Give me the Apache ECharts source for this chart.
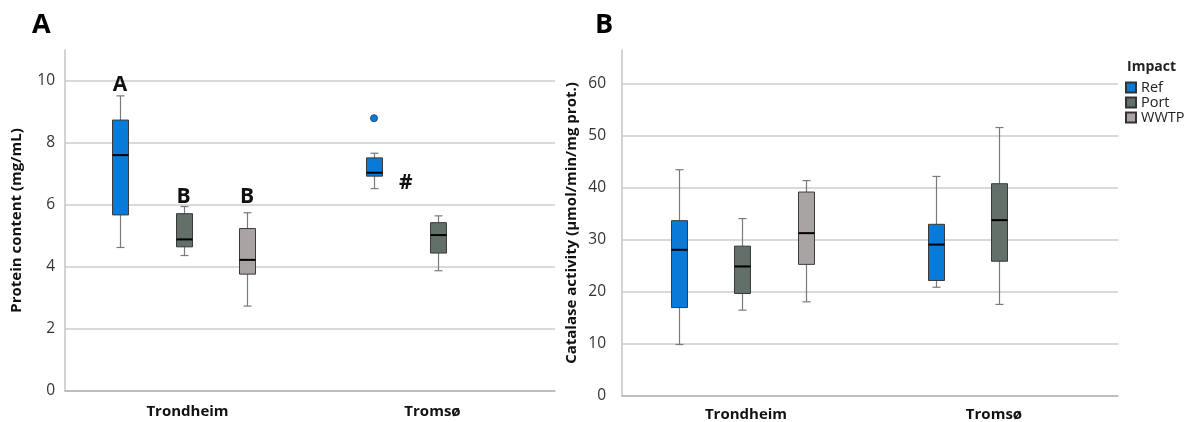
<!DOCTYPE html>
<html>
<head>
<meta charset="utf-8">
<script src="https://cdn.jsdelivr.net/npm/echarts@6/dist/echarts.min.js"></script>
<style>
  html, body { margin: 0; padding: 0; background: #fff; }
  #main { width: 1189px; height: 422px; }
</style>
</head>
<body>
<div id="main"></div>
<script>
const cities = ['Trondheim', 'Tromsø'];
const impacts = ['Ref', 'Port', 'WWTP'];
const colors = ['#0a7ad8', '#627069', '#aaa3a3'];

// [cityIndex, min, q1, median, q3, max]
const proteinRef = [[0, 4.63, 5.68, 7.61, 8.74, 9.52], [1, 6.53, 6.93, 7.04, 7.52, 7.67]];
const proteinPort = [[0, 4.37, 4.65, 4.89, 5.72, 5.95], [1, 3.88, 4.45, 5.03, 5.43, 5.65]];
const proteinWwtp = [[0, 2.74, 3.77, 4.23, 5.24, 5.75]];
// [cityIndex, impactIndex, value]
const proteinOutliers = [[1, 0, 8.80]];
// [cityIndex, impactIndex position, value, text]
const proteinNotes = [[0, 0, 9.87, 'A'], [0, 1, 6.26, 'B'], [0, 2, 6.26, 'B'], [1, 0.5, 6.7, '#']];

const catalaseRef = [[0, 9.9, 17.0, 28.1, 33.7, 43.5], [1, 20.9, 22.2, 29.1, 33.0, 42.2]];
const catalasePort = [[0, 16.5, 19.7, 24.9, 28.8, 34.1], [1, 17.6, 25.9, 33.8, 40.8, 51.6]];
const catalaseWwtp = [[0, 18.1, 25.3, 31.3, 39.2, 41.4]];

const groupStep = 63.5;
const cityShift = [-4, 5];
const boxW = 16;

function xPos(api, city, g) {
  return api.coord([city, 0])[0] + cityShift[city] + (g - 1) * groupStep;
}

function boxSeries(name, idx, axisIdx, rows) {
  return {
    name: name,
    type: 'custom',
    xAxisIndex: axisIdx,
    yAxisIndex: axisIdx,
    clip: false,
    itemStyle: { color: colors[idx], borderColor: '#333', borderWidth: 1 },
    encode: { x: 0, y: [1, 2, 3, 4, 5] },
    data: rows,
    renderItem: function (params, api) {
      const c = api.value(0);
      const cx = Math.round(xPos(api, c, idx)) + 0.5;
      const y = v => api.coord([c, v])[1];
      const yMin = y(api.value(1)), yQ1 = y(api.value(2)), yMed = y(api.value(3));
      const yQ3 = y(api.value(4)), yMax = y(api.value(5));
      const wl = { stroke: '#7a7a7a', lineWidth: 1.2 };
      return {
        type: 'group',
        children: [
          { type: 'line', shape: { x1: cx, y1: yMax, x2: cx, y2: yQ3 }, style: wl },
          { type: 'line', shape: { x1: cx, y1: yQ1, x2: cx, y2: yMin }, style: wl },
          { type: 'line', shape: { x1: cx - 4, y1: yMax, x2: cx + 4, y2: yMax }, style: wl },
          { type: 'line', shape: { x1: cx - 4, y1: yMin, x2: cx + 4, y2: yMin }, style: wl },
          { type: 'rect', shape: { x: cx - boxW / 2, y: yQ3, width: boxW, height: yQ1 - yQ3 },
            style: { fill: colors[idx], stroke: '#3a3a3a', lineWidth: 1 } },
          { type: 'line', shape: { x1: cx - boxW / 2, y1: yMed, x2: cx + boxW / 2, y2: yMed },
            style: { stroke: '#000', lineWidth: 2 } }
        ]
      };
    }
  };
}

function outlierSeries(axisIdx, rows) {
  return {
    type: 'custom',
    xAxisIndex: axisIdx,
    yAxisIndex: axisIdx,
    clip: false,
    encode: { x: 0, y: 2 },
    data: rows,
    renderItem: function (params, api) {
      const c = api.value(0), g = api.value(1);
      const py = api.coord([c, api.value(2)])[1];
      return { type: 'circle', shape: { cx: xPos(api, c, g), cy: py, r: 3.5 },
        style: { fill: colors[g], stroke: '#1f4f80', lineWidth: 1 } };
    }
  };
}

function noteSeries(axisIdx, notes) {
  return {
    type: 'custom',
    xAxisIndex: axisIdx,
    yAxisIndex: axisIdx,
    clip: false,
    silent: true,
    encode: { x: 0, y: 1 },
    data: notes.map(n => [n[0], n[2]]),
    renderItem: function (params, api) {
      const n = notes[params.dataIndex];
      const py = api.coord([n[0], n[2]])[1];
      return { type: 'text', x: xPos(api, n[0], n[1]), y: py,
        style: { text: n[3], font: 'bold 21px "Open Sans", sans-serif', fill: '#111',
          align: 'center', verticalAlign: 'middle' } };
    }
  };
}

const gridLine = '#d9d9d9';
function yAxis(gridIdx, max, interval, name, gap, colorsArr, margin) {
  return {
    type: 'value', gridIndex: gridIdx, min: 0, max: max, interval: interval,
    name: name, nameLocation: 'middle', nameGap: gap,
    nameTextStyle: { fontFamily: 'Open Sans', fontWeight: 'bold', fontSize: 15, color: '#111' },
    axisLine: { show: true, lineStyle: { color: '#c4c4c4', width: 1.5 } },
    axisTick: { show: false },
    axisLabel: { showMaxLabel: false, fontFamily: 'Open Sans', fontSize: 15.5, color: '#333', margin: margin },
    splitLine: { show: true, lineStyle: { color: colorsArr, width: 2 } }
  };
}
function xAxis(gridIdx, margin) {
  return {
    type: 'category', gridIndex: gridIdx, data: cities,
    axisLine: { show: true, lineStyle: { color: '#b5b5b5', width: 1.5 } },
    axisTick: { show: false },
    axisLabel: { fontFamily: 'Open Sans', fontWeight: 'bold', fontSize: 15, color: '#111', margin: margin }
  };
}

const chart = echarts.init(document.getElementById('main'));
chart.setOption({
  animation: false,
  backgroundColor: '#fff',
  grid: [
    { left: 65, top: 50, width: 490, bottom: 31 },
    { left: 622, top: 50, width: 496, bottom: 26 }
  ],
  xAxis: [xAxis(0, 13), xAxis(1, 11)],
  yAxis: [
    yAxis(0, 11, 2, 'Protein content (mg/mL)', 41, [gridLine, gridLine, gridLine, gridLine, gridLine, gridLine, 'rgba(0,0,0,0)'], 10),
    yAxis(1, 66.5, 10, 'Catalase activity (µmol/min/mg prot.)', 43, [gridLine, gridLine, gridLine, gridLine, gridLine, gridLine, gridLine, 'rgba(0,0,0,0)'], 16)
  ],
  legend: {
    data: impacts, orient: 'vertical', left: 1125, top: 80,
    itemWidth: 10, itemHeight: 10, itemGap: 0, padding: 0,
    icon: 'rect',
    textStyle: { fontFamily: 'Open Sans', fontSize: 14.5, lineHeight: 15, color: '#222', padding: [0, 0, 0, 0] }
  },
  graphic: [
    { type: 'text', left: 32, top: 12, style: { text: 'A', font: 'bold 27px "Open Sans", sans-serif', fill: '#000' } },
    { type: 'text', left: 595, top: 12, style: { text: 'B', font: 'bold 27px "Open Sans", sans-serif', fill: '#000' } },
    { type: 'text', left: 1127, top: 60, style: { text: 'Impact', font: 'bold 14px "Open Sans", sans-serif', fill: '#222' } }
  ],
  series: [
    boxSeries('Ref', 0, 0, proteinRef),
    boxSeries('Port', 1, 0, proteinPort),
    boxSeries('WWTP', 2, 0, proteinWwtp),
    outlierSeries(0, proteinOutliers),
    noteSeries(0, proteinNotes),
    boxSeries('Ref', 0, 1, catalaseRef),
    boxSeries('Port', 1, 1, catalasePort),
    boxSeries('WWTP', 2, 1, catalaseWwtp)
  ]
});
</script>
</body>
</html>
